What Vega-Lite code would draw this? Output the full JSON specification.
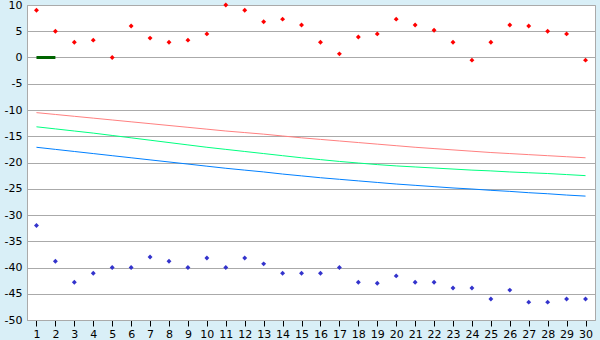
{
  "$schema": "https://vega.github.io/schema/vega-lite/v6.json",
  "width": 568,
  "height": 315,
  "autosize": {"type": "none"},
  "padding": {"left": 27, "top": 5, "right": 5, "bottom": 20},
  "background": "#d9eff7",
  "config": {
    "view": {"stroke": "#aaaaaa", "strokeWidth": 1, "fill": "#ffffff"},
    "axis": {"labelFont": "DejaVu Sans", "labelFontSize": 11, "labelColor": "#000000"}
  },
  "datasets": {
    "days": [
      {"day": 1, "max": 9, "min": -32, "r": -10.5, "g": -13.2, "b": -17.1},
      {"day": 2, "max": 5, "min": -38.8, "r": -10.85, "g": -13.6, "b": -17.5},
      {"day": 3, "max": 2.9, "min": -42.8, "r": -11.2, "g": -14.0, "b": -17.9},
      {"day": 4, "max": 3.3, "min": -41.1, "r": -11.55, "g": -14.4, "b": -18.3},
      {"day": 5, "max": 0, "min": -40, "r": -11.9, "g": -14.85, "b": -18.7},
      {"day": 6, "max": 6, "min": -40, "r": -12.25, "g": -15.3, "b": -19.1},
      {"day": 7, "max": 3.7, "min": -38, "r": -12.6, "g": -15.75, "b": -19.5},
      {"day": 8, "max": 2.9, "min": -38.8, "r": -12.95, "g": -16.2, "b": -19.9},
      {"day": 9, "max": 3.3, "min": -40, "r": -13.3, "g": -16.65, "b": -20.3},
      {"day": 10, "max": 4.5, "min": -38.2, "r": -13.65, "g": -17.1, "b": -20.7},
      {"day": 11, "max": 10, "min": -40, "r": -14.0, "g": -17.5, "b": -21.1},
      {"day": 12, "max": 9, "min": -38.2, "r": -14.3, "g": -17.9, "b": -21.45},
      {"day": 13, "max": 6.8, "min": -39.3, "r": -14.6, "g": -18.3, "b": -21.8},
      {"day": 14, "max": 7.3, "min": -41.1, "r": -14.95, "g": -18.7, "b": -22.2},
      {"day": 15, "max": 6.2, "min": -41.1, "r": -15.3, "g": -19.1, "b": -22.55},
      {"day": 16, "max": 2.9, "min": -41.1, "r": -15.6, "g": -19.45, "b": -22.9},
      {"day": 17, "max": 0.7, "min": -40, "r": -15.9, "g": -19.8, "b": -23.2},
      {"day": 18, "max": 3.9, "min": -42.8, "r": -16.2, "g": -20.1, "b": -23.5},
      {"day": 19, "max": 4.5, "min": -43, "r": -16.5, "g": -20.4, "b": -23.8},
      {"day": 20, "max": 7.3, "min": -41.6, "r": -16.8, "g": -20.65, "b": -24.1},
      {"day": 21, "max": 6.2, "min": -42.8, "r": -17.1, "g": -20.85, "b": -24.35},
      {"day": 22, "max": 5.2, "min": -42.8, "r": -17.35, "g": -21.05, "b": -24.6},
      {"day": 23, "max": 2.9, "min": -43.9, "r": -17.6, "g": -21.25, "b": -24.85},
      {"day": 24, "max": -0.5, "min": -43.9, "r": -17.85, "g": -21.45, "b": -25.05},
      {"day": 25, "max": 2.9, "min": -46, "r": -18.1, "g": -21.6, "b": -25.3},
      {"day": 26, "max": 6.2, "min": -44.3, "r": -18.3, "g": -21.8, "b": -25.5},
      {"day": 27, "max": 6, "min": -46.6, "r": -18.5, "g": -21.95, "b": -25.75},
      {"day": 28, "max": 5, "min": -46.6, "r": -18.7, "g": -22.1, "b": -25.95},
      {"day": 29, "max": 4.5, "min": -46, "r": -18.9, "g": -22.3, "b": -26.2},
      {"day": 30, "max": -0.5, "min": -46, "r": -19.1, "g": -22.5, "b": -26.4}
    ],
    "seg": [
      {"day": 1, "v": 0},
      {"day": 2, "v": 0}
    ]
  },
  "data": {"name": "days"},
  "encoding": {
    "x": {
      "field": "day",
      "type": "quantitative",
      "scale": {"domain": [0.5, 30.5], "nice": false, "zero": false},
      "axis": {
        "title": null,
        "values": [1,2,3,4,5,6,7,8,9,10,11,12,13,14,15,16,17,18,19,20,21,22,23,24,25,26,27,28,29,30],
        "tickCount": 30,
        "grid": false,
        "domainColor": "#aaaaaa",
        "tickColor": "#000000",
        "tickSize": 6,
        "labelPadding": 2,
        "labelFlush": false,
        "labelOverlap": false
      }
    }
  },
  "layer": [
    {
      "mark": {"type": "line", "color": "#ff8080", "strokeWidth": 1},
      "encoding": {"y": {"field": "r", "type": "quantitative", "scale": {"domain": [-50, 10], "nice": false, "zero": false},
        "axis": {"title": null, "values": [-50,-45,-40,-35,-30,-25,-20,-15,-10,-5,0,5,10], "tickCount": 13, "grid": true, "gridColor": "#aaaaaa", "gridOpacity": 1, "ticks": false, "labelPadding": 5, "labelOverlap": false, "labelFlush": false, "domainColor": "#aaaaaa", "labelExpr": "'' + datum.value"}}}
    },
    {
      "mark": {"type": "line", "color": "#00ff80", "strokeWidth": 1},
      "encoding": {"y": {"field": "g", "type": "quantitative"}}
    },
    {
      "mark": {"type": "line", "color": "#0080ff", "strokeWidth": 1},
      "encoding": {"y": {"field": "b", "type": "quantitative"}}
    },
    {
      "data": {"name": "seg"},
      "mark": {"type": "line", "color": "#006400", "strokeWidth": 3},
      "encoding": {"y": {"field": "v", "type": "quantitative"}}
    },
    {
      "mark": {"type": "point", "shape": "diamond", "filled": true, "color": "#ff0000", "size": 24, "opacity": 1},
      "encoding": {"y": {"field": "max", "type": "quantitative"}}
    },
    {
      "mark": {"type": "point", "shape": "diamond", "filled": true, "color": "#3333cc", "size": 24, "opacity": 1},
      "encoding": {"y": {"field": "min", "type": "quantitative"}}
    }
  ]
}
